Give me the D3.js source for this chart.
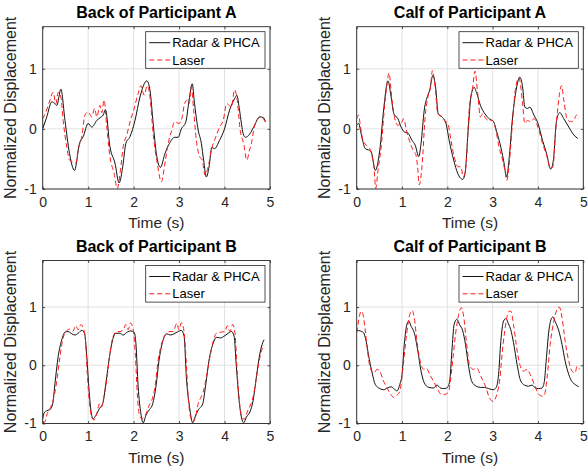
<!DOCTYPE html>
<html><head><meta charset="utf-8">
<script src="https://cdn.jsdelivr.net/npm/d3@7"></script>
<style>body{margin:0;background:#fff;} svg{display:block;font-family:"Liberation Sans",Arial,sans-serif;}</style>
</head><body><svg id="chart" width="588" height="470"></svg>
<script>
// ---- data: [time (s), normalized displacement] ----
const backA_radar = [[0,0],[0.09,0.2],[0.2,0.45],[0.27,0.42],[0.31,0.39],[0.4,0.66],[0.49,0.14],[0.59,-0.41],[0.7,-0.69],[0.81,-0.24],[0.89,-0.13],[1.0,0.09],[1.08,0.03],[1.19,0.14],[1.27,0.19],[1.33,0.23],[1.38,0.32],[1.48,-0.3],[1.59,-0.57],[1.68,-0.9],[1.76,-0.63],[1.83,-0.24],[1.92,-0.13],[2.03,0.14],[2.14,0.53],[2.29,0.8],[2.36,0.64],[2.43,0.09],[2.5,-0.41],[2.59,-0.64],[2.69,-0.41],[2.79,-0.24],[2.9,-0.14],[2.98,-0.14],[3.05,0.0],[3.15,0.12],[3.22,0.48],[3.29,0.75],[3.34,0.42],[3.42,-0.02],[3.49,-0.24],[3.54,-0.52],[3.6,-0.8],[3.66,-0.63],[3.72,-0.31],[3.78,-0.33],[3.89,-0.19],[4.0,0.0],[4.11,0.31],[4.22,0.5],[4.27,0.56],[4.33,0.31],[4.41,-0.08],[4.46,-0.14],[4.55,-0.09],[4.66,0.06],[4.77,0.2],[4.85,0.19],[4.9,0.12]];
const backA_laser = [[0,0.17],[0.07,0.28],[0.16,0.48],[0.23,0.61],[0.29,0.42],[0.34,0.61],[0.4,0.53],[0.45,0.14],[0.53,-0.3],[0.59,-0.52],[0.66,-0.55],[0.73,-0.57],[0.78,-0.35],[0.86,-0.13],[0.93,0.23],[1.0,0.28],[1.08,0.2],[1.14,0.34],[1.19,0.2],[1.26,0.39],[1.3,0.27],[1.35,0.48],[1.41,0.03],[1.48,-0.46],[1.57,-0.74],[1.64,-0.99],[1.71,-0.69],[1.77,-0.3],[1.85,-0.1],[1.93,0.14],[2.0,0.31],[2.1,0.59],[2.16,0.72],[2.23,0.56],[2.3,0.72],[2.36,0.53],[2.43,-0.08],[2.52,-0.57],[2.61,-0.88],[2.69,-0.57],[2.76,-0.24],[2.83,-0.05],[2.9,0.12],[3.0,0.09],[3.07,0.2],[3.12,0.42],[3.18,0.48],[3.22,0.42],[3.27,0.7],[3.32,0.31],[3.38,-0.19],[3.45,-0.46],[3.51,-0.52],[3.57,-0.77],[3.64,-0.63],[3.71,-0.35],[3.81,-0.13],[3.89,0.03],[3.97,0.14],[4.05,0.42],[4.15,0.36],[4.22,0.65],[4.27,0.53],[4.35,-0.05],[4.42,-0.24],[4.49,-0.52],[4.55,-0.35],[4.59,-0.24],[4.64,-0.02],[4.71,0.14],[4.81,0.2],[4.89,0.12]];
const calfA_radar = [[0,0.06],[0.04,0.09],[0.12,-0.16],[0.19,-0.33],[0.26,-0.35],[0.32,-0.38],[0.41,-0.69],[0.51,-0.35],[0.6,0.36],[0.69,0.8],[0.76,0.53],[0.82,0.25],[0.91,0.17],[0.98,0.03],[1.05,-0.05],[1.13,-0.07],[1.22,-0.19],[1.29,-0.27],[1.37,-0.46],[1.42,-0.24],[1.49,0.31],[1.57,0.56],[1.61,0.64],[1.68,0.89],[1.74,0.7],[1.8,0.25],[1.88,0.2],[1.97,0.09],[2.04,-0.19],[2.14,-0.52],[2.23,-0.74],[2.34,-0.84],[2.39,-0.74],[2.46,-0.02],[2.52,0.53],[2.59,0.69],[2.65,0.59],[2.73,0.39],[2.83,0.25],[2.92,0.17],[3.02,0.12],[3.09,-0.05],[3.16,-0.24],[3.24,-0.52],[3.31,-0.8],[3.36,-0.52],[3.44,0.2],[3.51,0.61],[3.6,0.86],[3.66,0.7],[3.71,0.36],[3.77,0.34],[3.82,0.36],[3.91,0.23],[4.0,0.09],[4.1,-0.19],[4.19,-0.41],[4.28,-0.67],[4.34,-0.52],[4.41,0.14],[4.48,0.27],[4.57,0.17],[4.68,0.03],[4.79,-0.1],[4.88,-0.16]];
const calfA_laser = [[0,0.17],[0.04,0.23],[0.09,0.0],[0.14,-0.19],[0.21,-0.27],[0.29,-0.33],[0.34,-0.46],[0.38,-0.63],[0.42,-0.99],[0.47,-0.69],[0.54,-0.3],[0.62,0.42],[0.67,0.75],[0.71,0.93],[0.78,0.48],[0.84,0.17],[0.91,0.06],[0.98,0.09],[1.04,0.17],[1.09,0.0],[1.16,-0.19],[1.24,-0.35],[1.31,-0.44],[1.35,-0.69],[1.38,-0.93],[1.44,-0.63],[1.51,0.2],[1.58,0.56],[1.63,0.7],[1.67,0.97],[1.73,0.7],[1.79,0.25],[1.86,0.21],[1.93,0.14],[2.01,0.09],[2.08,-0.19],[2.15,-0.46],[2.24,-0.63],[2.3,-0.63],[2.35,-0.8],[2.41,-0.63],[2.48,0.31],[2.56,0.7],[2.61,0.96],[2.67,0.59],[2.73,0.2],[2.78,0.25],[2.85,0.17],[2.92,0.14],[3.0,0.14],[3.07,-0.02],[3.14,-0.3],[3.22,-0.52],[3.27,-0.69],[3.31,-0.86],[3.36,-0.63],[3.44,0.14],[3.49,0.59],[3.54,0.8],[3.58,0.85],[3.62,0.7],[3.66,0.42],[3.71,0.09],[3.77,0.14],[3.84,0.12],[3.91,0.17],[4.0,0.03],[4.1,-0.24],[4.19,-0.44],[4.28,-0.66],[4.33,-0.63],[4.39,-0.02],[4.44,0.36],[4.48,0.61],[4.52,0.72],[4.57,0.48],[4.64,0.17],[4.72,0.12],[4.79,0.14],[4.85,0.23],[4.89,0.17]];
const backB_radar = [[0,-0.92],[0.03,-0.82],[0.09,-0.78],[0.16,-0.76],[0.22,-0.66],[0.27,-0.31],[0.34,0.15],[0.42,0.44],[0.49,0.57],[0.56,0.58],[0.64,0.54],[0.71,0.52],[0.78,0.55],[0.86,0.6],[0.92,0.55],[0.97,0.15],[1.02,-0.43],[1.06,-0.77],[1.11,-0.92],[1.17,-0.86],[1.25,-0.74],[1.32,-0.66],[1.39,-0.31],[1.47,0.15],[1.54,0.44],[1.61,0.55],[1.7,0.55],[1.77,0.52],[1.86,0.57],[1.93,0.59],[2.01,0.57],[2.05,0.38],[2.1,-0.37],[2.16,-0.83],[2.21,-0.99],[2.27,-0.86],[2.34,-0.77],[2.42,-0.66],[2.49,-0.37],[2.56,0.09],[2.64,0.41],[2.73,0.54],[2.81,0.52],[2.89,0.54],[2.98,0.58],[3.05,0.6],[3.11,0.5],[3.16,-0.2],[3.24,-0.77],[3.3,-0.99],[3.35,-0.89],[3.42,-0.77],[3.52,-0.66],[3.59,-0.31],[3.66,0.09],[3.75,0.38],[3.82,0.48],[3.91,0.47],[4.01,0.51],[4.08,0.55],[4.15,0.58],[4.21,0.5],[4.26,-0.02],[4.32,-0.6],[4.37,-0.89],[4.42,-0.99],[4.48,-0.89],[4.56,-0.8],[4.63,-0.6],[4.7,-0.2],[4.78,0.21],[4.84,0.39],[4.87,0.44]];
const backB_laser = [[0,-0.99],[0.05,-0.97],[0.1,-0.83],[0.15,-0.77],[0.19,-0.69],[0.23,-0.6],[0.29,-0.37],[0.37,0.09],[0.44,0.44],[0.51,0.58],[0.59,0.62],[0.66,0.58],[0.73,0.68],[0.78,0.61],[0.84,0.7],[0.89,0.64],[0.94,0.44],[0.98,-0.14],[1.03,-0.66],[1.08,-0.89],[1.13,-0.94],[1.19,-0.83],[1.25,-0.66],[1.29,-0.72],[1.33,-0.6],[1.41,-0.25],[1.48,0.21],[1.55,0.5],[1.63,0.58],[1.7,0.58],[1.77,0.61],[1.83,0.7],[1.88,0.61],[1.93,0.73],[1.99,0.61],[2.04,0.15],[2.08,-0.48],[2.12,-0.83],[2.18,-0.92],[2.23,-0.89],[2.29,-0.8],[2.34,-0.69],[2.4,-0.6],[2.47,-0.37],[2.54,0.09],[2.62,0.38],[2.71,0.54],[2.8,0.58],[2.87,0.58],[2.95,0.72],[3.0,0.61],[3.05,0.73],[3.11,0.58],[3.15,0.15],[3.2,-0.54],[3.25,-0.88],[3.31,-0.97],[3.37,-0.86],[3.42,-0.66],[3.47,-0.57],[3.53,-0.46],[3.6,-0.2],[3.68,0.15],[3.75,0.41],[3.82,0.55],[3.93,0.57],[4.01,0.58],[4.06,0.68],[4.12,0.58],[4.18,0.7],[4.23,0.55],[4.28,-0.14],[4.34,-0.72],[4.4,-0.92],[4.45,-0.92],[4.5,-0.8],[4.56,-0.7],[4.61,-0.6],[4.67,-0.37],[4.74,-0.02],[4.81,0.24],[4.87,0.35]];
const calfB_radar = [[0,0.6],[0.08,0.59],[0.15,0.56],[0.21,0.41],[0.26,0.18],[0.34,-0.13],[0.41,-0.33],[0.51,-0.4],[0.6,-0.42],[0.68,-0.39],[0.76,-0.37],[0.83,-0.41],[0.89,-0.44],[0.95,-0.33],[1.0,-0.16],[1.05,0.36],[1.11,0.71],[1.15,0.76],[1.2,0.67],[1.27,0.56],[1.35,0.24],[1.42,-0.1],[1.49,-0.3],[1.59,-0.38],[1.7,-0.39],[1.77,-0.34],[1.85,-0.39],[1.92,-0.4],[1.99,-0.39],[2.05,-0.28],[2.1,0.24],[2.15,0.7],[2.21,0.79],[2.27,0.7],[2.34,0.59],[2.4,0.36],[2.47,-0.02],[2.54,-0.28],[2.64,-0.36],[2.73,-0.38],[2.82,-0.38],[2.91,-0.4],[3.01,-0.42],[3.08,-0.38],[3.13,-0.16],[3.18,0.41],[3.24,0.76],[3.29,0.8],[3.35,0.71],[3.4,0.61],[3.46,0.39],[3.54,0.01],[3.61,-0.25],[3.7,-0.34],[3.79,-0.36],[3.87,-0.34],[3.94,-0.39],[4.01,-0.4],[4.09,-0.39],[4.14,-0.28],[4.18,0.07],[4.24,0.59],[4.29,0.79],[4.33,0.83],[4.38,0.75],[4.46,0.59],[4.53,0.36],[4.6,0.07],[4.68,-0.16],[4.75,-0.28],[4.82,-0.33],[4.9,-0.37]];
const calfB_laser = [[0,0.56],[0.04,0.76],[0.1,0.93],[0.14,0.87],[0.19,0.59],[0.24,0.24],[0.3,-0.05],[0.38,-0.13],[0.45,-0.07],[0.51,-0.1],[0.58,-0.25],[0.67,-0.39],[0.74,-0.49],[0.82,-0.55],[0.88,-0.52],[0.95,-0.45],[1.02,-0.05],[1.1,0.53],[1.17,0.87],[1.22,0.94],[1.27,0.82],[1.33,0.41],[1.4,0.07],[1.48,-0.07],[1.54,-0.05],[1.61,-0.16],[1.7,-0.28],[1.79,-0.42],[1.88,-0.51],[1.98,-0.49],[2.03,-0.45],[2.1,-0.05],[2.18,0.53],[2.25,0.87],[2.31,0.99],[2.36,0.84],[2.42,0.41],[2.49,0.01],[2.57,-0.07],[2.65,-0.05],[2.74,-0.19],[2.84,-0.36],[2.93,-0.56],[3.01,-0.62],[3.08,-0.53],[3.15,-0.28],[3.23,0.36],[3.3,0.76],[3.35,0.92],[3.4,0.93],[3.46,0.7],[3.52,0.36],[3.6,0.01],[3.68,-0.1],[3.76,-0.07],[3.83,-0.16],[3.92,-0.33],[4.01,-0.49],[4.09,-0.53],[4.14,-0.51],[4.2,-0.22],[4.27,0.36],[4.35,0.76],[4.42,0.96],[4.47,1.0],[4.53,0.82],[4.6,0.41],[4.68,0.07],[4.75,-0.1],[4.82,-0.13],[4.86,-0.02],[4.92,-0.07]];

const xTicks = [0,1,2,3,4,5];
const yTicks = [-1,0,1];
const xTickLabels = ["0","1","2","3","4","5"];
const yTickLabels = ["-1","0","1"];
const seriesNames = ["Radar & PHCA","Laser"];
const titles = ["Back of Participant A","Calf of Participant A","Back of Participant B","Calf of Participant B"];
const xLabel = "Time (s)";
const yLabel = "Normalized Displacement";

// ---- layout ----
const panels = [
  {title:titles[0], radar:backA_radar, laser:backA_laser, yMax:1.7, l:42.7, r:270, t:26.7, b:189},
  {title:titles[1], radar:calfA_radar, laser:calfA_laser, yMax:1.7, l:356.7, r:583.3, t:26.7, b:189},
  {title:titles[2], radar:backB_radar, laser:backB_laser, yMax:1.8, l:42.7, r:270, t:260.5, b:423.5},
  {title:titles[3], radar:calfB_radar, laser:calfB_laser, yMax:1.8, l:356.7, r:583.3, t:260.5, b:423.5}
];
const TXT = "#262626";
const svg = d3.select("#chart");
svg.append("rect").attr("width",588).attr("height",470).attr("fill","#fff");

panels.forEach((p,i) => {
  const x = d3.scaleLinear().domain([0,5]).range([p.l,p.r]);
  const y = d3.scaleLinear().domain([-1,p.yMax]).range([p.b,p.t]);
  const g = svg.append("g");
  const clipId = "clip"+i;
  svg.append("clipPath").attr("id",clipId).append("rect")
    .attr("x",p.l).attr("y",p.t).attr("width",p.r-p.l).attr("height",p.b-p.t);

  // grid
  g.selectAll(".gx").data(xTicks).join("line")
    .attr("x1",d=>x(d)).attr("x2",d=>x(d)).attr("y1",p.t).attr("y2",p.b)
    .attr("stroke","#e2e2e2").attr("stroke-width",1);
  g.selectAll(".gy").data(yTicks).join("line")
    .attr("x1",p.l).attr("x2",p.r).attr("y1",d=>y(d)).attr("y2",d=>y(d))
    .attr("stroke","#e2e2e2").attr("stroke-width",1);

  const line = d3.line().x(d=>x(d[0])).y(d=>y(d[1])).curve(d3.curveMonotoneX);
  const lg = g.append("g").attr("clip-path",`url(#${clipId})`);
  lg.append("path").datum(p.radar).attr("d",line).attr("fill","none")
    .attr("stroke","#111").attr("stroke-width",1);
  lg.append("path").datum(p.laser).attr("d",line).attr("fill","none")
    .attr("stroke","#ff1a1a").attr("stroke-width",1).attr("stroke-dasharray","5,3");

  // axes
  const styleAxis = sel => {
    sel.select(".domain").remove();
    sel.selectAll(".tick line").attr("stroke",TXT).attr("stroke-width",0.8);
    sel.selectAll(".tick text").attr("fill",TXT).style("font-size","14px")
      .style("font-family",'"Liberation Sans",Arial,sans-serif');
  };
  g.append("g").attr("transform",`translate(0,${p.b})`)
    .call(d3.axisBottom(x).tickValues(xTicks).tickFormat((d,k)=>xTickLabels[k]).tickSize(-2.5).tickPadding(8)).call(styleAxis);
  g.append("g").attr("transform",`translate(0,${p.t})`)
    .call(d3.axisTop(x).tickValues(xTicks).tickFormat("").tickSize(-2.5)).call(styleAxis);
  g.append("g").attr("transform",`translate(${p.l},0)`)
    .call(d3.axisLeft(y).tickValues(yTicks).tickFormat((d,k)=>yTickLabels[k]).tickSize(-2.5).tickPadding(6)).call(styleAxis);
  g.append("g").attr("transform",`translate(${p.r},0)`)
    .call(d3.axisRight(y).tickValues(yTicks).tickFormat("").tickSize(-2.5)).call(styleAxis);

  g.append("rect").attr("x",p.l).attr("y",p.t).attr("width",p.r-p.l).attr("height",p.b-p.t)
    .attr("fill","none").attr("stroke",TXT).attr("stroke-width",0.9);

  // title
  g.append("text").attr("x",(p.l+p.r)/2).attr("y",p.t-9).attr("text-anchor","middle")
    .attr("fill","#000").style("font-size","16px").style("font-weight","bold").text(p.title);
  // x label
  g.append("text").attr("x",(p.l+p.r)/2).attr("y",p.b+39).attr("text-anchor","middle")
    .attr("fill",TXT).style("font-size","15.5px").text(xLabel);
  // y label
  g.append("text").attr("transform",`translate(${p.l-27},${(p.t+p.b)/2}) rotate(-90)`)
    .attr("text-anchor","middle").attr("fill",TXT).style("font-size","16px").text(yLabel);

  // legend
  const lw = 119.3, lh = 36.6, lx = p.r - 5 - lw, ly = p.t + 5;
  const leg = g.append("g");
  leg.append("rect").attr("x",lx).attr("y",ly).attr("width",lw).attr("height",lh)
    .attr("fill","#fff").attr("stroke",TXT).attr("stroke-width",0.8);
  const rows = [{name:seriesNames[0], color:"#111", dash:null},{name:seriesNames[1], color:"#ff1a1a", dash:"5,3"}];
  rows.forEach((r,k) => {
    const cy = ly + 11 + k*17.3;
    leg.append("line").attr("x1",lx+3.5).attr("x2",lx+24.5).attr("y1",cy).attr("y2",cy)
      .attr("stroke",r.color).attr("stroke-width",1).attr("stroke-dasharray",r.dash);
    leg.append("text").attr("x",lx+26.5).attr("y",cy).attr("dy","0.35em")
      .attr("fill","#000").style("font-size","13px").text(r.name);
  });
});
</script>
</body></html>
